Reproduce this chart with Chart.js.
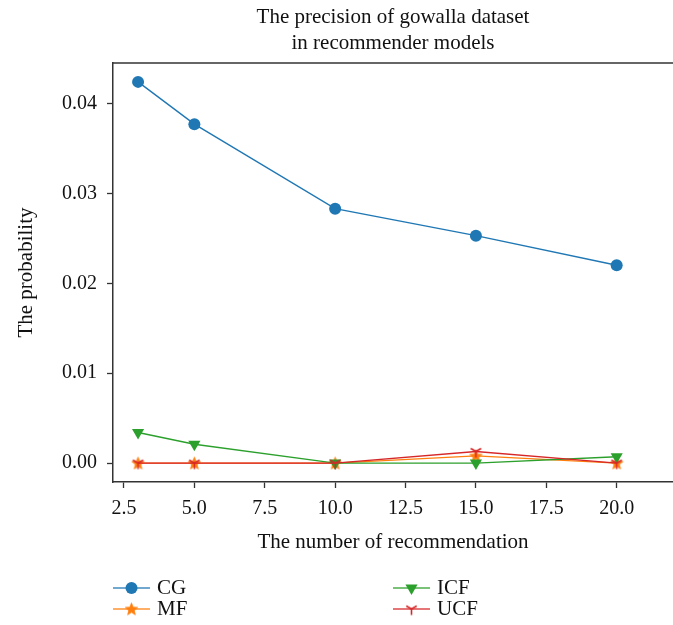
<!DOCTYPE html>
<html>
<head>
<meta charset="utf-8">
<script src="https://cdn.jsdelivr.net/npm/chart.js@4/dist/chart.umd.min.js"></script>
<style>
  html, body { margin: 0; padding: 0; background: #fff; }
  #wrap { width: 673px; height: 625px; position: relative; }
</style>
</head>
<body>
<div id="wrap"><canvas id="c" width="673" height="625"></canvas></div>
<script>
// ---- data ----
const xValues = [3, 5, 10, 15, 20];
const cgValues  = [0.0424, 0.0377, 0.0283, 0.0253, 0.0220];
const mfValues  = [0.0, 0.0, 0.0, 0.0008, 0.0];
const icfValues = [0.0034, 0.0021, 0.0, 0.0, 0.0007];
const ucfValues = [0.0, 0.0, 0.0, 0.0013, 0.0];
const xTicks = [2.5, 5.0, 7.5, 10.0, 12.5, 15.0, 17.5, 20.0];
const yTicks = [0.00, 0.01, 0.02, 0.03, 0.04];
const titleLines = ['The precision of gowalla dataset', 'in recommender models'];
const seriesNames = ['CG', 'MF', 'ICF', 'UCF'];

const FONT = "'Liberation Serif', 'DejaVu Serif', serif";
const COLORS = { CG: '#1f77b4', MF: '#ff7f0e', ICF: '#2ca02c', UCF: '#d62728' };

function makeStar(color) {
  const c = document.createElement('canvas');
  c.width = 15; c.height = 15;
  const g = c.getContext('2d');
  const cx = 7.5, cy = 8, R = 6.5, r = 2.8;
  g.beginPath();
  for (let i = 0; i < 10; i++) {
    const rad = (i % 2 === 0) ? R : r;
    const a = -Math.PI / 2 + i * Math.PI / 5;
    const px = cx + rad * Math.cos(a), py = cy + rad * Math.sin(a);
    if (i === 0) g.moveTo(px, py); else g.lineTo(px, py);
  }
  g.closePath();
  g.fillStyle = color; g.fill();
  g.strokeStyle = color; g.lineWidth = 0.8; g.stroke();
  return c;
}
function makeTriDown(color) {
  const c = document.createElement('canvas');
  c.width = 15; c.height = 15;
  const g = c.getContext('2d');
  const cx = 7.5, cy = 7.5, r = 6;
  g.strokeStyle = color; g.lineWidth = 1.6;
  g.beginPath();
  g.moveTo(cx, cy); g.lineTo(cx, cy + r);
  g.moveTo(cx, cy); g.lineTo(cx - r * Math.sin(Math.PI / 3), cy - r * 0.5);
  g.moveTo(cx, cy); g.lineTo(cx + r * Math.sin(Math.PI / 3), cy - r * 0.5);
  g.stroke();
  return c;
}
const starImg = makeStar(COLORS.MF);
const triImg = makeTriDown(COLORS.UCF);

function pts(vals) { return xValues.map((x, i) => ({ x: x, y: vals[i] })); }

const markerDefs = {
  CG:  { pointStyle: 'circle', radius: 6, rotation: 0 },
  MF:  { pointStyle: starImg, radius: 6, rotation: 0 },
  ICF: { pointStyle: 'triangle', radius: 7, rotation: 180 },
  UCF: { pointStyle: triImg, radius: 6, rotation: 0 }
};

function ds(name, vals, order) {
  const m = markerDefs[name];
  return {
    label: name,
    data: pts(vals),
    borderColor: COLORS[name],
    backgroundColor: COLORS[name],
    borderWidth: 1.4,
    pointStyle: m.pointStyle,
    pointRadius: m.radius,
    pointHoverRadius: m.radius,
    pointRotation: m.rotation,
    pointBorderWidth: 0,
    pointBackgroundColor: COLORS[name],
    pointBorderColor: COLORS[name],
    tension: 0,
    order: order
  };
}

const decoPlugin = {
  id: 'deco',
  afterDraw(chart) {
    const ctx = chart.ctx;
    const a = chart.chartArea;
    ctx.save();
    // top spine
    ctx.strokeStyle = '#333';
    ctx.lineWidth = 1.5;
    ctx.beginPath();
    ctx.moveTo(a.left, a.top);
    ctx.lineTo(a.right + 1, a.top);
    ctx.stroke();
    // title
    ctx.fillStyle = '#111';
    ctx.font = '21px ' + FONT;
    ctx.textAlign = 'center';
    ctx.textBaseline = 'middle';
    const cx = (a.left + a.right) / 2;
    titleLines.forEach((t, i) => ctx.fillText(t, cx, 17 + i * 26));
    // legend (2 columns, column-major)
    const cols = [113, 393];
    const rows = [588, 609];
    seriesNames.forEach((name, i) => {
      const col = Math.floor(i / 2), row = i % 2;
      const x0 = cols[col], y = rows[row];
      ctx.strokeStyle = COLORS[name];
      ctx.globalAlpha = 0.85;
      ctx.lineWidth = 1.4;
      ctx.beginPath();
      ctx.moveTo(x0, y); ctx.lineTo(x0 + 37, y);
      ctx.stroke();
      ctx.globalAlpha = 1;
      const m = markerDefs[name];
      ctx.fillStyle = COLORS[name];
      Chart.helpers.drawPoint(ctx, {
        pointStyle: m.pointStyle, radius: m.radius, rotation: m.rotation, borderWidth: 0
      }, x0 + 18.5, y);
      ctx.fillStyle = '#111';
      ctx.font = '21px ' + FONT;
      ctx.textAlign = 'left';
      ctx.textBaseline = 'middle';
      ctx.fillText(name, x0 + 44, y);
    });
    ctx.restore();
  }
};

new Chart(document.getElementById('c'), {
  type: 'line',
  data: {
    datasets: [
      ds('CG', cgValues, 3),
      ds('MF', mfValues, 2),
      ds('ICF', icfValues, 1),
      ds('UCF', ucfValues, 0)
    ]
  },
  options: {
    responsive: false,
    animation: false,
    devicePixelRatio: 1,
    layout: { autoPadding: false, padding: { top: 63, right: 0, bottom: 70, left: 0 } },
    plugins: {
      legend: { display: false },
      title: { display: false },
      tooltip: { enabled: false }
    },
    scales: {
      x: {
        type: 'linear',
        min: 2.11,
        max: 22.0,
        afterBuildTicks(scale) { scale.ticks = xTicks.map(v => ({ value: v })); },
        afterFit(scale) { scale.height = 73; scale.paddingLeft = 0; scale.paddingRight = 0; },
        ticks: {
          color: '#111',
          font: { family: FONT, size: 20 },
          padding: 9,
          maxRotation: 0,
          callback: v => Number(v).toFixed(1)
        },
        grid: { display: true, drawOnChartArea: false, drawTicks: true, tickLength: 6, color: '#333', tickWidth: 1.3 },
        border: { display: true, color: '#333', width: 1.5 },
        title: {
          display: true,
          text: 'The number of recommendation',
          color: '#111',
          font: { family: FONT, size: 21 },
          padding: { top: 0, bottom: 0 }
        }
      },
      y: {
        type: 'linear',
        min: -0.0021,
        max: 0.0445,
        afterBuildTicks(scale) { scale.ticks = yTicks.map(v => ({ value: v })); },
        afterFit(scale) { scale.width = 113; scale.paddingTop = 0; scale.paddingBottom = 0; },
        ticks: {
          color: '#111',
          font: { family: FONT, size: 20 },
          padding: 10,
          callback: v => Number(v).toFixed(2)
        },
        grid: { display: true, drawOnChartArea: false, drawTicks: true, tickLength: 6, color: '#333', tickWidth: 1.3 },
        border: { display: true, color: '#333', width: 1.5 },
        title: {
          display: true,
          text: 'The probability',
          color: '#111',
          font: { family: FONT, size: 21 },
          padding: { top: 14, bottom: 0 }
        }
      }
    }
  },
  plugins: [decoPlugin]
});
</script>
</body>
</html>
